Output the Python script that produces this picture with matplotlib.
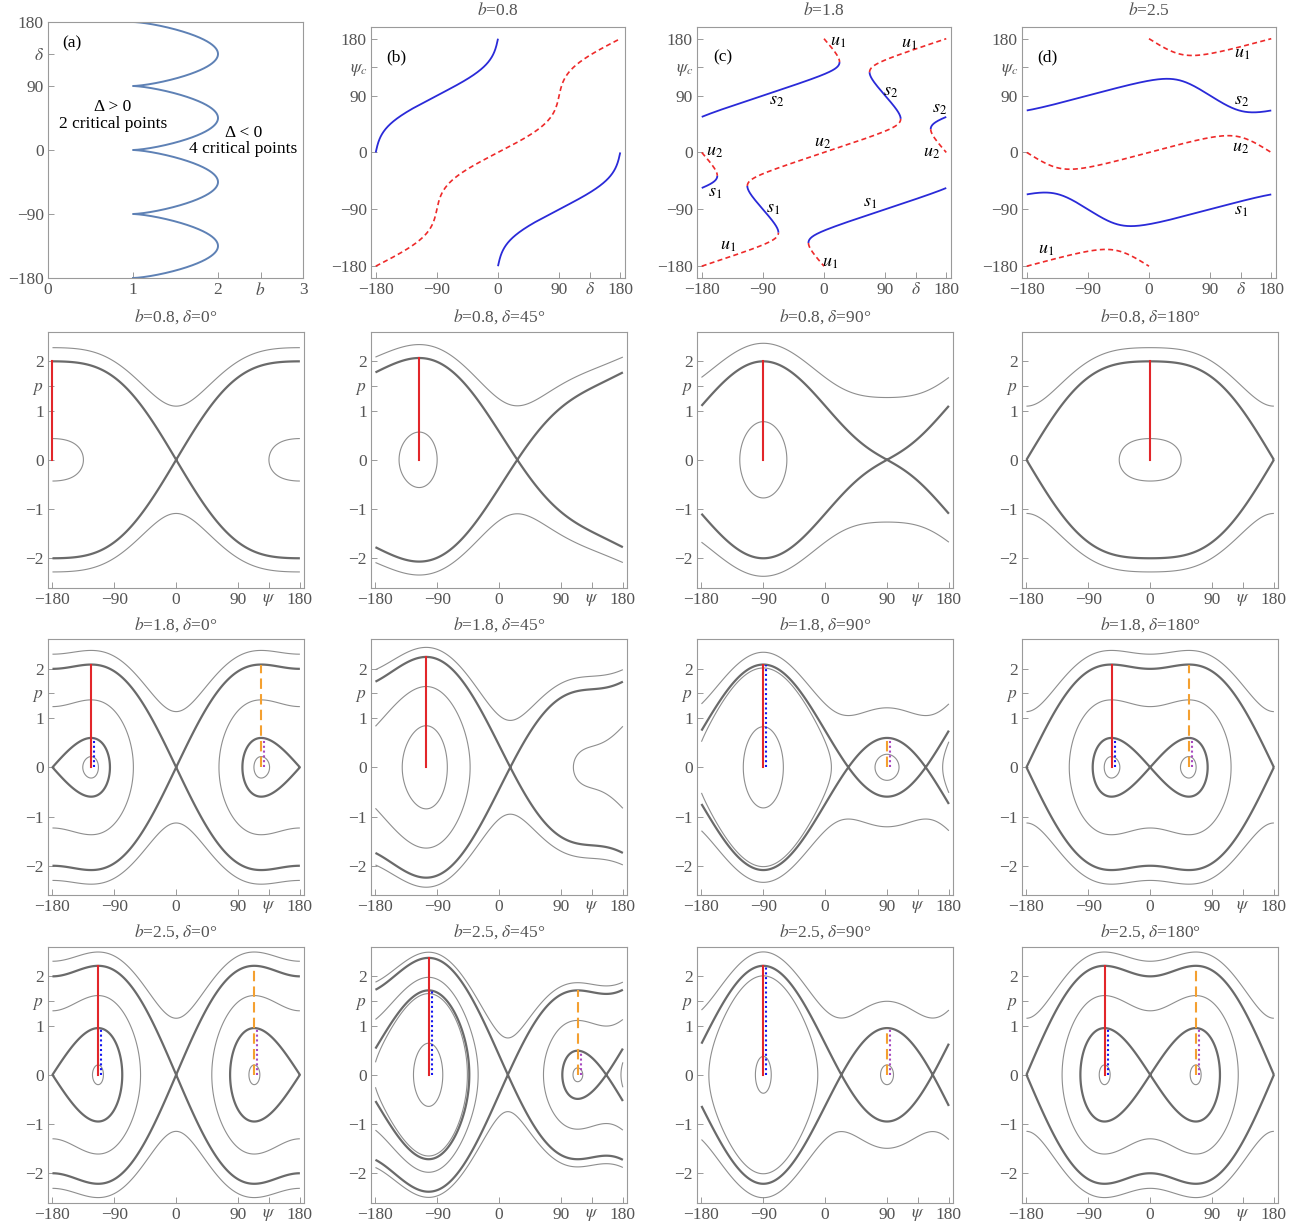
import numpy as np
import matplotlib
matplotlib.use("Agg")
import matplotlib.pyplot as plt
import contourpy

plt.rcParams['font.family'] = ['Liberation Serif', 'DejaVu Serif']
plt.rcParams['mathtext.fontset'] = 'stix'
plt.rcParams['contour.negative_linestyle'] = 'solid'

# ---------------- data ----------------
b_values = [0.8, 1.8, 2.5]                 # rows 2-4 and panels (b)-(d)
delta_values = [0, 45, 90, 180]            # columns of the phase portraits
panel_letters = ['(a)', '(b)', '(c)', '(d)']
# thin energy levels H read from each phase portrait (columns delta = 0, 45, 90, 180)
thin_levels_b08 = [[-0.707, 1.794], [-0.91, 1.67], [-0.90, 1.60], [-0.707, 1.794]]
thin_levels_b18 = [[-0.704, 0.21, 2.09], [-0.90, 0.09, 1.71], [-1.11, 0.585, 1.28], [-0.704, 0.21, 2.09]]
thin_levels_b25 = [[-0.805, 0.47, 2.285], [-1.204, -0.05, 0.55, 1.69], [-1.555, 0.395, 1.49], [-0.805, 0.47, 2.285]]
angle_ticks = [-180, -90, 0, 90, 180]
p_ticks = [-2, -1, 0, 1, 2]
b_ticks = [0, 1, 2, 3]
region_texts = ['\u0394 > 0\n2 critical points', '\u0394 < 0\n4 critical points']
labels_c_names = ['u1', 'u1', 's2', 's2', 's2', 'u2', 'u2', 'u2', 's1', 's1', 's1', 'u1', 'u1']
labels_c_delta = [20, 125, -70, 98, 170, -161, -2, 158, -161, -75, 68, -141, 9]
labels_c_psi = [176, 172, 82, 97, 69, 2, 15, 0.5, -63, -89, -79, -147, -174]
labels_d_names = ['u1', 's2', 'u2', 's1', 'u1']
labels_d_delta = [137, 136, 135, 135, -152]
labels_d_psi = [156, 82, 8, -92, -153]
thin_levels = [thin_levels_b08, thin_levels_b18, thin_levels_b25]

# ---------------- model: H = p^2/2 + cos(psi - delta) + (b/4) cos(2 psi) ----------------
def V(psi, d, b):
    return np.cos(psi - d) + b / 4.0 * np.cos(2 * psi)

def dV(psi, d, b):
    return -np.sin(psi - d) - b / 2.0 * np.sin(2 * psi)

def d2V(psi, d, b):
    return -np.cos(psi - d) - b * np.cos(2 * psi)

def critical_points(b, d_deg):
    d = np.radians(d_deg)
    step = 0.01
    xs = np.radians(np.arange(-180, 180, step) + 0.00371)
    f = dV(xs, d, b)
    f2 = np.roll(f, -1)
    idx = np.where(np.sign(f) != np.sign(f2))[0]
    centers, saddles = [], []
    for i in idx:
        t = f[i] / (f[i] - f2[i])
        xc = np.degrees(xs[i] + t * np.radians(step))
        xc = (xc + 180.0) % 360.0 - 180.0
        if xc > 179.5:
            xc -= 360.0
        vc = V(np.radians(xc), d, b)
        if d2V(np.radians(xc), d, b) > 0:
            centers.append((xc, vc))
        else:
            saddles.append((xc, vc))
    return centers, saddles

# ---------------- figure ----------------
W, Hpx = 1306, 1227
fig = plt.figure(figsize=(W / 100, Hpx / 100), dpi=100)

def axes_px(left, top, w, h):
    return fig.add_axes([left / W, 1 - (top + h) / Hpx, w / W, h / Hpx])

def fmt(v):
    return ('\u2212%g' % -v) if v < 0 else '%g' % v

TICKC = '#555555'
FS = 12.5
def style(ax, xt, xl, yt, yl):
    ax.set_xticks(xt)
    ax.set_xticklabels(xl)
    ax.set_yticks(yt)
    ax.set_yticklabels(yl)
    ax.tick_params(direction='in', length=4, width=0.6, color='#8a8a8a',
                   labelcolor=TICKC, labelsize=FS, pad=3)
    for s in ax.spines.values():
        s.set_color('#9a9a9a')
        s.set_linewidth(0.8)

def sub_label(name):
    return r'$%s_{\mathit{%s}}$' % (name[0], name[1])

col_left = [48, 371, 697, 1022]
BLUE_C = '#2a2ad8'
RED_C = '#ee2a2a'

# ---- panel (a): bifurcation curve (double-root condition of dV = 0) ----
ax = axes_px(48, 22, 255, 256)
th = np.linspace(0, 2 * np.pi, 4001)
b_crit = 1.0 / np.sqrt(np.cos(th) ** 6 + np.sin(th) ** 6)
d_crit = np.degrees(np.arctan2(np.sin(th) ** 3, -np.cos(th) ** 3))
ax.plot(b_crit, d_crit, color='#5e81b5', lw=1.4)
ax.set_xlim(0, 3)
ax.set_ylim(-180, 180)
style(ax, b_ticks[:3] + [2.5, 3], [fmt(v) for v in b_ticks[:3]] + ['$b$', '3'],
      angle_ticks[:4] + [135, 180], [fmt(v) for v in angle_ticks[:4]] + [r'$\delta$', '180'])
ax.text(0.094, 0.918, panel_letters[0], transform=ax.transAxes, ha='center', va='center',
        fontsize=FS, color='black')
ax.text(0.765, 48.5, region_texts[0], ha='center', va='center', fontsize=12.5,
        linespacing=1.05, color='black')
ax.text(2.30, 12.7, region_texts[1], ha='center', va='center', fontsize=12.5,
        linespacing=1.0, color='black')

# ---- panels (b)-(d): critical points psi_c versus delta ----
dgrid = np.linspace(-180, 180, 1441)
pgrid = np.linspace(-180, 180, 1441)
DD, PSg = np.meshgrid(dgrid, pgrid)
label_sets = [None, (labels_c_names, labels_c_delta, labels_c_psi),
              (labels_d_names, labels_d_delta, labels_d_psi)]
for k, b in enumerate(b_values):
    ax = axes_px(col_left[k + 1], 26.7, 254, 251.5)
    F = np.sin(np.radians(PSg - DD)) + b / 2.0 * np.sin(2 * np.radians(PSg))
    gen = contourpy.contour_generator(x=dgrid, y=pgrid, z=F,
                                      line_type=contourpy.LineType.Separate)
    for line in gen.lines(0.0):
        dd, pp = line[:, 0], line[:, 1]
        stable = d2V(np.radians(pp), np.radians(dd), b) > 0
        start = 0
        n = len(stable)
        for i in range(1, n + 1):
            if i == n or stable[i] != stable[start]:
                seg = slice(start, min(i + 1, n))
                if stable[start]:
                    ax.plot(dd[seg], pp[seg], color=BLUE_C, lw=1.3, solid_capstyle='butt')
                else:
                    ax.plot(dd[seg], pp[seg], color=RED_C, lw=1.2, dashes=(3, 2))
                start = i
    ax.set_xlim(-187, 187)
    ax.set_ylim(-199, 199)
    style(ax, angle_ticks[:4] + [135, 180], [fmt(v) for v in angle_ticks[:4]] + [r'$\delta$', '180'],
          angle_ticks[:4] + [135, 180], [fmt(v) for v in angle_ticks[:4]] + [r'$\psi_c$', '180'])
    ax.text(0.5, 1 + 16 / 251.5, r'$b$=%g' % b, transform=ax.transAxes, ha='center',
            va='center', fontsize=FS, color=TICKC)
    ax.text(0.10, 0.876, panel_letters[k + 1], transform=ax.transAxes, ha='center',
            va='center', fontsize=FS, color='black')
    if label_sets[k] is not None:
        names, dl, pl = label_sets[k]
        for nm, x, y in zip(names, dl, pl):
            ax.text(x, y, sub_label(nm), ha='center', va='center', fontsize=13, color='black')

# ---- phase portraits ----
row_top = [331.8, 639.3, 946.8]
psi_g = np.linspace(-180, 180, 1441)
p_g = np.linspace(-2.75, 2.75, 1101)
PS, PP = np.meshgrid(psi_g, p_g)
HEAVY = '#6a6a6a'
THIN = '#8e8e8e'
OFF = 4.5
for i, b in enumerate(b_values):
    for j, d in enumerate(delta_values):
        ax = axes_px(col_left[j], row_top[i], 256, 256)
        Hh = PP ** 2 / 2 + V(np.radians(PS), np.radians(d), b)
        centers, saddles = critical_points(b, d)
        ax.contour(PS, PP, Hh, levels=sorted(thin_levels[i][j]), colors=THIN,
                   linewidths=0.8, linestyles='solid')
        sad_levels = np.unique(np.round([s[1] for s in saddles], 5))
        ax.contour(PS, PP, Hh, levels=sad_levels, colors=HEAVY, linewidths=1.6,
                   linestyles='solid')
        cs = sorted(centers, key=lambda c: (round(c[1], 4), c[0]))
        hi = max(s[1] for s in saddles)
        lo = min(s[1] for s in saddles)
        c1 = cs[0]
        if len(cs) == 2:
            c2 = cs[1]
            ax.plot([c1[0] + OFF] * 2, [0, np.sqrt(2 * (lo - c1[1]))], color='#1515f0',
                    lw=1.5, dashes=(1.0, 1.3))
            ax.plot([c2[0]] * 2, [0, np.sqrt(2 * (hi - c2[1]))], color='#f4a030',
                    lw=1.5, dashes=(5, 2.5))
            ax.plot([c2[0] + OFF] * 2, [0, np.sqrt(2 * (lo - c2[1]))], color='#a848c0',
                    lw=1.5, dashes=(1.0, 1.3))
        ax.plot([c1[0]] * 2, [0, np.sqrt(2 * (hi - c1[1]))], color='#e2262a', lw=1.5)
        ax.set_xlim(-186.5, 186)
        ax.set_ylim(-2.6, 2.6)
        style(ax, angle_ticks[:4] + [135, 180], [fmt(v) for v in angle_ticks[:4]] + [r'$\psi$', '180'],
              p_ticks[:4] + [1.5, 2], [fmt(v) for v in p_ticks[:4]] + ['$p$', '2'])
        ax.text(0.5, 1 + 15 / 256, r'$b$=%g, $\delta$=%g°' % (b, d), transform=ax.transAxes,
                ha='center', va='center', fontsize=FS, color=TICKC)

fig.savefig('out.png', dpi=100)
